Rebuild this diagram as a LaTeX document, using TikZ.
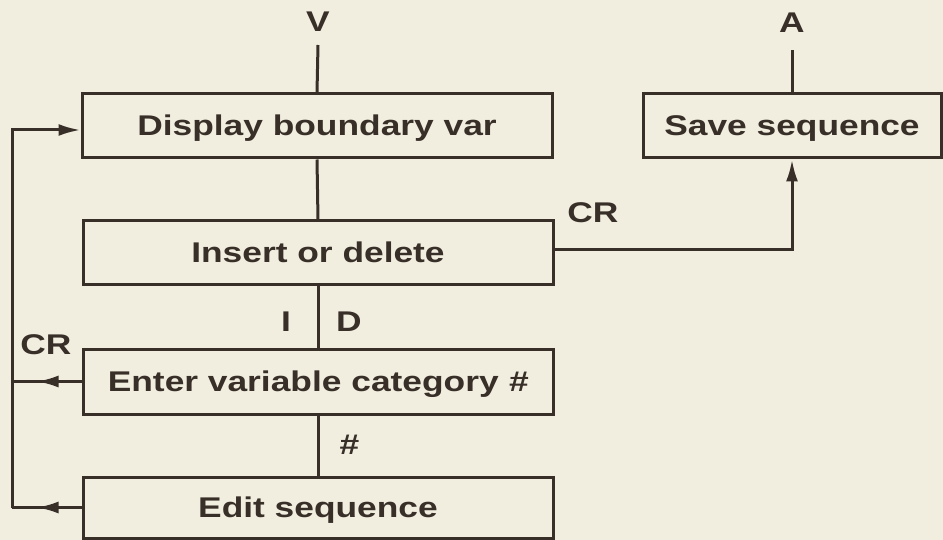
\documentclass[tikz,border=0pt]{standalone}
\usepackage{fontspec}
\setmainfont{Liberation Sans}[FakeStretch=1.24]
\usetikzlibrary{arrows.meta,decorations.markings}

\definecolor{paper}{RGB}{241,238,224}
\definecolor{ink}{RGB}{55,47,40}
\newcommand\chartfont{\fontsize{28.5}{32}\selectfont\bfseries}

\tikzset{
  box/.style={draw=ink, line width=3pt, minimum width=470pt, minimum height=64pt,
              inner sep=0pt, text=ink, font=\chartfont, text height=20pt, text depth=0pt},
  lbl/.style={text=ink, font=\chartfont, inner sep=0pt},
  wire/.style={draw=ink, line width=3pt},
  tip/.style={-{Latex[length=22pt,width=12pt]}},
  midtip/.style={postaction={decorate}, decoration={markings,
      mark=at position 45pt with {\arrow[ink]{Latex[length=22pt,width=12pt]}}}}
}

\begin{document}
\begin{tikzpicture}[x=1pt,y=-1pt]
\fill[paper] (0,0) rectangle (943,540);
\useasboundingbox (0,0) rectangle (943,540);

% boxes
\node[box] (disp)  at (317,126)   {Display boundary var};
\node[box] (ins)   at (318,253)   {Insert or delete};
\node[box, minimum height=65pt] (enter) at (318,381.5) {Enter variable category {\itshape\#}};
\node[box, minimum height=61pt] (edit)  at (318,507.5) {Edit sequence};
\node[box, minimum width=298pt] (save)  at (792,126)   {Save sequence};

% entry / exit labels
\node[lbl] (v) at (318,22) {V};
\node[lbl] (a) at (792,23) {A};
\coordinate (vin)  at (318,45);
\coordinate (aout) at (792,50);
\draw[wire] (vin) -- (disp.north);
\draw[wire] (aout) -- (save.north);

% main vertical flow
\draw[wire] (disp.south) -- (ins.north);
\draw[wire] (ins.south) -- (enter.north);
\draw[wire] (enter.south) -- (edit.north);
\node[lbl] (i)    at (286,322) {I};
\node[lbl] (d)    at (349,322) {D};
\node[lbl] (hash) at (349,445) {\itshape\#};

% CR to save
\coordinate (crturn) at (792,250);
\draw[wire, tip] (ins.east |- crturn) -- (crturn) -- (save.south);
\node[lbl] (crr) at (593,213) {CR};

% return loop on the left
\coordinate (lb) at (12,507.5);
\coordinate (lm) at (12,381.5);
\draw[wire, midtip] (edit.west) -- (lb);
\draw[wire, tip] (lb) |- ([yshift=-4pt]disp.west);
\draw[wire, midtip] (enter.west) -- (lm);
\node[lbl] (crl) at (46,345) {CR};
\end{tikzpicture}
\end{document}
